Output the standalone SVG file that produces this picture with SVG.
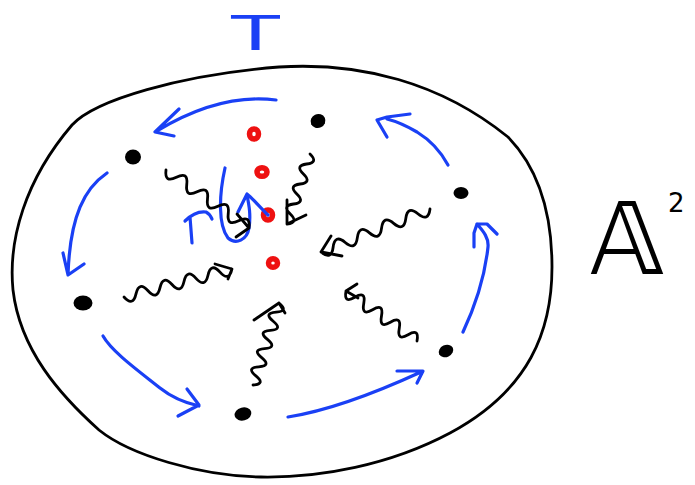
<svg xmlns="http://www.w3.org/2000/svg" width="695" height="485" viewBox="0 0 695 485">
<style>
.blk{fill:none;stroke:#000;stroke-width:2.8;stroke-linecap:round;stroke-linejoin:round}
.blu{fill:none;stroke:#1a40f5;stroke-width:3.2;stroke-linecap:round;stroke-linejoin:round}
.dot{fill:#000}
.red{fill:none;stroke:#ee1111;stroke-width:5.5}
</style>
<rect width="695" height="485" fill="#fff"/>
<g id="disk">
<path class="blk" d="M72 125 C95 100 180 75 279 67 C360 62 440 82 508 137 C540 170 552 215 552 267 C552 330 530 390 450 433 C390 465 320 478 261 477 C200 476 130 455 99 430 C60 395 20 350 13 290 C8 240 25 180 72 125 Z"/>
</g>
<g id="points">
<g id="p1"><ellipse class="dot" cx="133" cy="157" rx="8" ry="7.5"/></g>
<g id="p2"><ellipse class="dot" cx="318" cy="121" rx="7.5" ry="7" transform="rotate(-25 318 121)"/></g>
<g id="p3"><ellipse class="dot" cx="461" cy="193" rx="7.5" ry="6"/></g>
<g id="p4"><ellipse class="dot" cx="83" cy="303" rx="9.5" ry="7.5"/></g>
<g id="p5"><ellipse class="dot" cx="446" cy="351" rx="7.5" ry="6" transform="rotate(-25 446 351)"/></g>
<g id="p6"><ellipse class="dot" cx="243" cy="414" rx="8.5" ry="6.5" transform="rotate(-15 243 414)"/></g>
</g>
<g id="red-points">
<g id="r1"><ellipse class="red" cx="254" cy="134" rx="4.5" ry="5"/></g>
<g id="r2"><ellipse class="red" cx="262" cy="172" rx="5" ry="4.3"/></g>
<g id="r3"><ellipse class="red" cx="268" cy="215" rx="4.5" ry="5"/></g>
<g id="r4"><ellipse class="red" cx="273" cy="263" rx="4.5" ry="4.3"/></g>
</g>
<g id="connectors">
<path class="blu" d="M276 100 C235 95 195 108 157 131 M179 109 L155 132 L174 136"/>
<path class="blu" d="M107 173 C85 188 70 215 68 275 M63 253 L68 275 L84 264"/>
<path class="blu" d="M103 336 C112 352 140 372 160 388 C175 400 190 404 199 406 M187 389 L199 405 L178 416"/>
<path class="blu" d="M288 417 C320 412 360 400 421 372 M397 371 L423 371 L417 383"/>
<path class="blu" d="M463 332 C478 300 485 275 488 247 C489 237 482 230 477 224 M474 247 L474 233 L477 224 L487 224 L497 234"/>
<path class="blu" d="M448 165 C440 150 430 140 417 132 C405 125 395 121 387 119 M387 137 L377 120 L387 117 L410 114"/>
<path class="blu" d="M192 243 L190 217 M185 221 C190 216 198 211 206 212 C210 214 211 217 212 219"/>
<path class="blu" d="M225 168 C219 195 218 225 228 238 C236 245 247 240 249 228 C251 215 249 205 247 195 M238 212 L247 194 C252 198 260 207 268 215"/>
<path class="blk" d="M166 170 q-1.69 13.45 10.375 7.25 t10.375 7.25 t10.375 7.25 t10.375 7.25 t10.375 7.25 t10.375 7.25 t10.375 7.25 t10.375 7.25 M237 214 L249 228 L236 237"/>
<path class="blk" d="M310 154 q8.81 8.43 -3.286 10 t-3.286 10 t-3.286 10 t-3.286 10 t-3.286 10 t-3.286 10 t-3.286 10 M287 200 L287 224 L306 215"/>
<path class="blk" d="M430 209 q-1.66 13.55 -12.11 4.78 t-12.11 4.78 t-12.11 4.78 t-12.11 4.78 t-12.11 4.78 t-12.11 4.78 t-12.11 4.78 t-12.11 4.78 t-12.11 4.78 M331 236 L321 252 L342 256"/>
<path class="blk" d="M417 341 q2.47 -12.94 -8.875 -6.25 t-8.875 -6.25 t-8.875 -6.25 t-8.875 -6.25 t-8.875 -6.25 t-8.875 -6.25 t-8.875 -6.25 t-8.875 -6.25 M357 284 L346 291 L358 298"/>
<path class="blk" d="M253 385 q12.88 -0.94 2.889 -9.111 t2.889 -9.111 t2.889 -9.111 t2.889 -9.111 t2.889 -9.111 t2.889 -9.111 t2.889 -9.111 t2.889 -9.111 t2.889 -9.111 M254 320 L279 303 L285 313"/>
<path class="blk" d="M124 297 q9.01 10.06 12 -3.111 t12 -3.111 t12 -3.111 t12 -3.111 t12 -3.111 t12 -3.111 t12 -3.111 t12 -3.111 t12 -3.111 M215 264 L232 269 L228 279"/>
</g>
<g id="labels">
<text x="590" y="274" font-family="DejaVu Sans, sans-serif" font-size="100" fill="#000">𝔸</text>
<text x="668" y="212" font-family="DejaVu Sans, sans-serif" font-size="26" fill="#000">2</text>
<text x="229" y="50" font-family="Liberation Sans, sans-serif" font-size="50" fill="#1a40f5" textLength="53" lengthAdjust="spacingAndGlyphs">T</text>
</g>
</svg>
